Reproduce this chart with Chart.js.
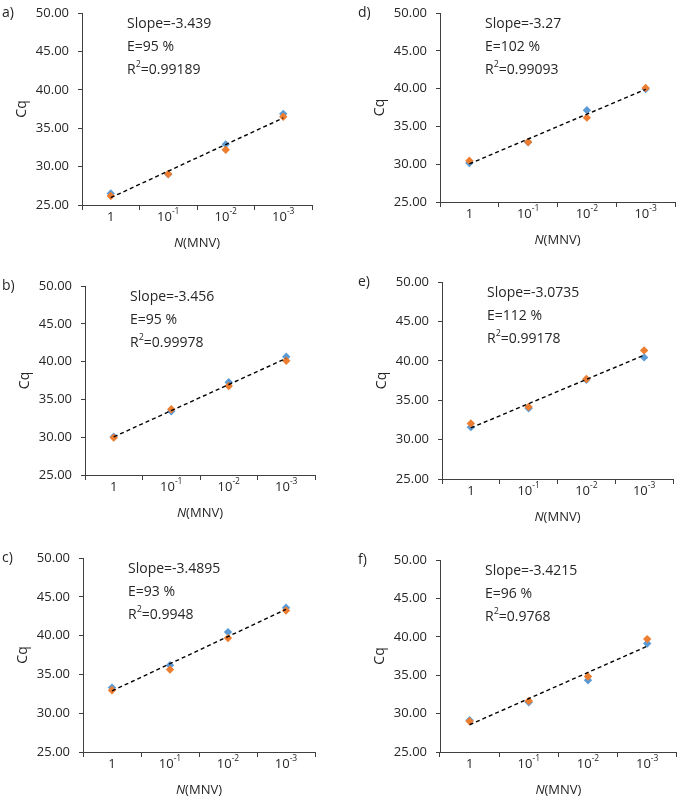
<!DOCTYPE html>
<html>
<head>
<meta charset="utf-8">
<script src="https://cdn.jsdelivr.net/npm/chart.js@4.4.1/dist/chart.umd.min.js"></script>
<style>
    html, body { margin: 0; padding: 0; background: #fff; }
    #wrap { position: relative; width: 681px; height: 803px; }
    #wrap canvas { position: absolute; }
</style>
</head>
<body>
<div id="wrap"></div>
<script>
// dilution steps on the x axis
const xLabels = ['1', '10^-1', '10^-2', '10^-3'];
const panelNames = ['a)', 'b)', 'c)', 'd)', 'e)', 'f)'];

// Cq values, first replicate (blue) and second replicate (orange)
const blueA = [26.50, 29.00, 32.90, 36.87];
const orangeA = [26.17, 29.03, 32.20, 36.50];
const blueB = [30.07, 33.42, 37.26, 40.65];
const orangeB = [29.94, 33.69, 36.77, 40.12];
const blueC = [33.30, 36.17, 40.45, 43.58];
const orangeC = [32.96, 35.62, 39.68, 43.24];
const blueD = [30.16, 32.90, 37.13, 39.95];
const orangeD = [30.47, 32.94, 36.16, 40.08];
const blueE = [31.58, 33.98, 37.60, 40.43];
const orangeE = [32.04, 34.15, 37.69, 41.32];
const blueF = [29.13, 31.48, 34.35, 39.13];
const orangeF = [29.00, 31.65, 34.83, 39.70];

// figures printed in each panel
const slopes = ['-3.439', '-3.456', '-3.4895', '-3.27', '-3.0735', '-3.4215'];
const efficiencies = ['95', '95', '93', '102', '112', '96'];
const rSquared = ['0.99189', '0.99978', '0.9948', '0.99093', '0.99178', '0.9768'];

const yTicks = [25, 30, 35, 40, 45, 50];

const BLUE = '#5B9BD5';
const ORANGE = '#ED7D31';
const TEXT = '#262626';
const AXIS = '#404040';
const FONT = '"Open Sans", "Liberation Sans", sans-serif';

// canvas box and plot area of every panel (page pixels)
const panels = [
    { blue: blueA, orange: orangeA, box: [0, 0, 340, 262], area: [82, 13, 312, 205] },
    { blue: blueB, orange: orangeB, box: [0, 262, 340, 268], area: [85, 286, 315, 475] },
    { blue: blueC, orange: orangeC, box: [0, 530, 340, 273], area: [83, 558, 315, 752] },
    { blue: blueD, orange: orangeD, box: [340, 0, 341, 262], area: [440, 13, 675, 202] },
    { blue: blueE, orange: orangeE, box: [340, 262, 341, 268], area: [442, 282, 673, 479] },
    { blue: blueF, orange: orangeF, box: [340, 530, 341, 273], area: [440, 560, 678, 752] }
];

// least squares line through both replicates, x = 0..3
function trendOf(a, b) {
    const xs = [], ys = [];
    a.forEach((v, i) => { xs.push(i); ys.push(v); });
    b.forEach((v, i) => { xs.push(i); ys.push(v); });
    const n = xs.length;
    const mx = xs.reduce((s, v) => s + v, 0) / n;
    const my = ys.reduce((s, v) => s + v, 0) / n;
    let sxy = 0, sxx = 0;
    for (let i = 0; i < n; i++) {
        sxy += (xs[i] - mx) * (ys[i] - my);
        sxx += (xs[i] - mx) * (xs[i] - mx);
    }
    const k = sxy / sxx;
    return a.map((_, i) => my + k * (i - mx));
}

const panelText = {
    id: 'panelText',
    afterDraw(chart, args, opts) {
        const ctx = chart.ctx;
        const area = chart.chartArea;
        const xs = chart.scales.x;
        ctx.save();
        ctx.fillStyle = TEXT;
        ctx.textBaseline = 'middle';

        // panel letter
        ctx.font = '14px ' + FONT;
        ctx.textAlign = 'left';
        ctx.fillText(opts.name, opts.nameX, area.top);

        // slope / efficiency / R2
        const ax = area.left + 45;
        let ay = area.top + 11;
        ctx.fillText('Slope=' + opts.slope, ax, ay);
        ay += 23;
        ctx.fillText('E=' + opts.eff + ' %', ax, ay);
        ay += 23;
        ctx.fillText('R', ax, ay);
        let w = ctx.measureText('R').width;
        ctx.font = '9px ' + FONT;
        ctx.fillText('2', ax + w, ay - 6);
        w += ctx.measureText('2').width;
        ctx.font = '14px ' + FONT;
        ctx.fillText('=' + opts.r2, ax + w, ay);

        // x tick labels with exponents
        const ty = area.bottom + 12;
        xLabels.forEach((lab, i) => {
            const px = xs.getPixelForValue(i);
            const parts = lab.split('^');
            ctx.font = '13px ' + FONT;
            const wb = ctx.measureText(parts[0]).width;
            let we = 0;
            if (parts[1]) {
                ctx.font = '8.5px ' + FONT;
                we = ctx.measureText(parts[1]).width;
            }
            const x0 = px - (wb + we) / 2;
            ctx.font = '13px ' + FONT;
            ctx.textAlign = 'left';
            ctx.fillText(parts[0], x0, ty);
            if (parts[1]) {
                ctx.font = '8.5px ' + FONT;
                ctx.fillText(parts[1], x0 + wb, ty - 5);
            }
        });

        // x title: italic N followed by (MNV)
        ctx.font = 'italic 13px ' + FONT;
        const wN = ctx.measureText('N').width;
        ctx.font = '13px ' + FONT;
        const wRest = ctx.measureText('(MNV)').width;
        const cx = (area.left + area.right) / 2 - (wN + wRest) / 2;
        const titleY = area.bottom + 38;
        ctx.font = 'italic 13px ' + FONT;
        ctx.fillText('N', cx, titleY);
        ctx.font = '13px ' + FONT;
        ctx.fillText('(MNV)', cx + wN, titleY);

        // y title
        ctx.font = '14px ' + FONT;
        ctx.translate(area.left - 60, (area.top + area.bottom) / 2);
        ctx.rotate(-Math.PI / 2);
        ctx.textAlign = 'center';
        ctx.fillText('Cq', 0, 0);
        ctx.restore();
    }
};

const wrap = document.getElementById('wrap');

panels.forEach((p, idx) => {
    const [bx, by, bw, bh] = p.box;
    const [L, T, R, B] = p.area;
    const canvas = document.createElement('canvas');
    canvas.width = bw;
    canvas.height = bh;
    canvas.style.left = bx + 'px';
    canvas.style.top = by + 'px';
    canvas.style.width = bw + 'px';
    canvas.style.height = bh + 'px';
    wrap.appendChild(canvas);

    const trend = trendOf(p.blue, p.orange);
    const nameX = bx < 300 ? 2 : 18;

    new Chart(canvas.getContext('2d'), {
        type: 'line',
        data: {
            labels: xLabels,
            datasets: [
                {
                    label: 'Trend',
                    data: trend,
                    borderColor: '#000',
                    borderWidth: 1.4,
                    borderDash: [4, 3],
                    pointRadius: 0,
                    fill: false,
                    order: 0
                },
                {
                    label: 'Replicate 2',
                    data: p.orange,
                    showLine: false,
                    pointStyle: 'rectRot',
                    pointRadius: 4.2,
                    backgroundColor: ORANGE,
                    borderColor: ORANGE,
                    borderWidth: 0,
                    order: 1
                },
                {
                    label: 'Replicate 1',
                    data: p.blue,
                    showLine: false,
                    pointStyle: 'rectRot',
                    pointRadius: 4.2,
                    backgroundColor: BLUE,
                    borderColor: BLUE,
                    borderWidth: 0,
                    order: 2
                }
            ]
        },
        options: {
            responsive: false,
            animation: false,
            events: [],
            layout: {
                padding: { left: 0, top: T - by, right: bx + bw - R, bottom: 0 }
            },
            plugins: {
                legend: { display: false },
                tooltip: { enabled: false },
                panelText: {
                    name: panelNames[idx],
                    nameX: nameX,
                    slope: slopes[idx],
                    eff: efficiencies[idx],
                    r2: rSquared[idx]
                }
            },
            scales: {
                x: {
                    type: 'category',
                    offset: true,
                    grid: {
                        offset: true,
                        drawOnChartArea: false,
                        drawTicks: true,
                        tickLength: 5,
                        color: AXIS
                    },
                    border: { color: AXIS, width: 1 },
                    ticks: { display: false },
                    afterFit: (s) => {
                        s.height = by + bh - B;
                        s.paddingLeft = 0;
                        s.paddingRight = 0;
                    }
                },
                y: {
                    min: yTicks[0],
                    max: yTicks[yTicks.length - 1],
                    afterBuildTicks: (s) => { s.ticks = yTicks.map(v => ({ value: v })); },
                    grid: {
                        drawOnChartArea: false,
                        drawTicks: true,
                        tickLength: 4,
                        color: AXIS
                    },
                    border: { color: AXIS, width: 1 },
                    ticks: {
                        color: TEXT,
                        padding: 9,
                        font: { family: FONT, size: 13 },
                        callback: (v) => Number(v).toFixed(2)
                    },
                    afterFit: (s) => {
                        s.width = L - bx;
                        s.paddingTop = 0;
                        s.paddingBottom = 0;
                    }
                }
            }
        },
        plugins: [panelText]
    });
});
</script>
</body>
</html>
